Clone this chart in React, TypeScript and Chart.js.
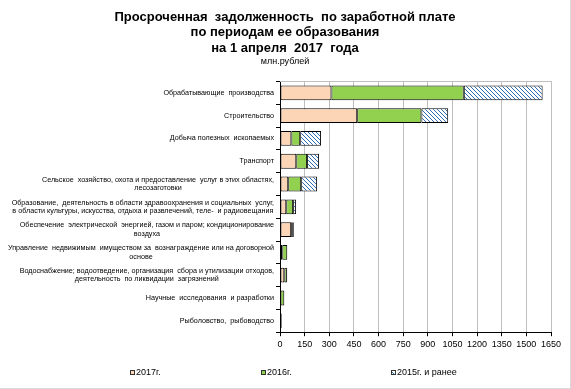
import React, { useEffect, useRef } from "react";
import { Chart, registerables } from "chart.js";

Chart.register(...registerables);

const titleLines = [
  "Просроченная  задолженность  по заработной плате",
  "по периодам ее образования",
  "на 1 апреля  2017  года",
];
const subtitleText = "млн.рублей";

const categories: (string | string[])[] = [
  "Обрабатывающие  производства",
  "Строительство",
  "Добыча полезных  ископаемых",
  "Транспорт",
  ["Сельское  хозяйство, охота и предоставление  услуг в этих областях,", "лесозаготовки"],
  [
    "Образование,  деятельность в области здравоохранения и социальных  услуг,",
    "в области культуры, искусства, отдыха и развлечений, теле-  и радиовещания",
  ],
  ["Обеспечение  электрической  энергией, газом и паром; кондиционирование", "воздуха"],
  ["Управление  недвижимым  имуществом за  вознаграждение или на договорной", "основе"],
  ["Водоснабжение; водоотведение, организация  сбора и утилизации отходов,", "деятельность  по ликвидации  загрязнений"],
  "Научные  исследования  и разработки",
  "Рыболовство,  рыбоводство",
];

const values2017 = [313, 470, 69, 99, 50, 38, 68, 14, 26, 3, 3];
const values2016 = [806, 391, 54, 66, 79, 42, 10, 30, 16, 23, 5];
const values2015 = [480, 163, 127, 73, 97, 18, 6, 1, 2, 1, 4];

const seriesNames = ["2017г.", "2016г.", "2015г. и ранее"];
const xTicks = [0, 150, 300, 450, 600, 750, 900, 1050, 1200, 1350, 1500, 1650];

const FONT = "'Liberation Sans', Arial, sans-serif";
const PEACH = "#FBD5B5";
const GREEN = "#92D050";
const HATCH = "#2E6DB4";

function makeHatch(ctx: CanvasRenderingContext2D): CanvasPattern | string {
  const c = document.createElement("canvas");
  c.width = 4;
  c.height = 4;
  const g = c.getContext("2d");
  if (!g) return "#fff";
  g.fillStyle = "#ffffff";
  g.fillRect(0, 0, 4, 4);
  g.fillStyle = HATCH;
  for (let i = 0; i < 4; i++) {
    g.fillRect(i, i, 1, 1);
  }
  const p = ctx.createPattern(c, "repeat");
  return p || "#fff";
}

export default function App() {
  const ref = useRef<HTMLCanvasElement | null>(null);

  useEffect(() => {
    const canvas = ref.current;
    if (!canvas) return;
    const ctx = canvas.getContext("2d");
    if (!ctx) return;
    const hatch = makeHatch(ctx);
    const fills = [PEACH, GREEN, hatch];

    const yLabelsPlugin = {
      id: "yLabels",
      afterDraw(chart: any) {
        const c = chart.ctx as CanvasRenderingContext2D;
        const yScale = chart.scales.y;
        const right = chart.chartArea.left - 6;
        c.save();
        c.font = `7.2px ${FONT}`;
        c.fillStyle = "#000";
        c.textBaseline = "middle";
        c.textAlign = "center";
        const lh = 8.5;
        categories.forEach((lab, i) => {
          const lines = Array.isArray(lab) ? lab : [lab];
          const w = Math.max(...lines.map((l) => c.measureText(l).width));
          const cx = right - w / 2;
          const yc = yScale.getPixelForValue(i);
          const y0 = yc - ((lines.length - 1) * lh) / 2;
          lines.forEach((l, j) => c.fillText(l, cx, y0 + j * lh));
        });
        c.restore();
      },
    };

    const frameAndLegendPlugin = {
      id: "frameLegend",
      beforeDatasetsDraw(chart: any) {
        const c = chart.ctx as CanvasRenderingContext2D;
        const a = chart.chartArea;
        c.save();
        c.strokeStyle = "#BFBFBF";
        c.lineWidth = 1;
        c.beginPath();
        c.moveTo(a.left, Math.round(a.top) + 0.5);
        c.lineTo(Math.round(a.right) + 0.5, Math.round(a.top) + 0.5);
        c.stroke();
        c.restore();
      },
      afterDraw(chart: any) {
        const c = chart.ctx as CanvasRenderingContext2D;
        const W = chart.width;
        const yc = 373;
        const xs = [0.2277, 0.4571, 0.6865].map((f) => Math.round(f * W));
        c.save();
        c.font = `9px ${FONT}`;
        c.textBaseline = "middle";
        c.textAlign = "left";
        seriesNames.forEach((name, i) => {
          const x = xs[i];
          c.fillStyle = fills[i] as any;
          c.fillRect(x, yc - 3, 5, 5);
          c.strokeStyle = "#333";
          c.lineWidth = 1;
          c.strokeRect(x + 0.5, yc - 2.5, 4, 4);
          c.fillStyle = "#000";
          c.fillText(name, x + 6, yc);
        });
        c.restore();
      },
    };

    const chart = new Chart(ctx, {
      type: "bar",
      data: {
        labels: categories as any,
        datasets: [values2017, values2016, values2015].map((vals, i) => ({
          label: seriesNames[i],
          data: vals,
          backgroundColor: fills[i] as any,
          borderColor: "#000",
          borderWidth: 1,
          borderSkipped: false,
          barPercentage: 1,
          categoryPercentage: 0.65,
        })),
      },
      options: {
        indexAxis: "y",
        animation: false,
        responsive: true,
        maintainAspectRatio: false,
        layout: { padding: { top: 0, bottom: 35, left: 0, right: 0 } },
        plugins: {
          legend: { display: false },
          tooltip: { enabled: false },
          title: {
            display: true,
            text: titleLines,
            color: "#000",
            font: { family: FONT, size: 13, weight: "bold", lineHeight: 1.17 },
            padding: { top: 10, bottom: 0 },
          },
          subtitle: {
            display: true,
            text: subtitleText,
            color: "#000",
            font: { family: FONT, size: 9, lineHeight: 1.2 },
            padding: { top: 0, bottom: 15 },
          },
        },
        scales: {
          x: {
            type: "linear",
            stacked: true,
            min: 0,
            max: 1650,
            afterBuildTicks: (s: any) => {
              s.ticks = xTicks.map((v) => ({ value: v }));
            },
            ticks: {
              color: "#000",
              font: { family: FONT, size: 9 },
              padding: 3,
              maxRotation: 0,
              autoSkip: false,
              callback: (v: any) => String(v),
            },
            grid: {
              color: "#BFBFBF",
              tickColor: "#000",
              tickLength: 4,
              lineWidth: 1,
            },
            border: { color: "#000", width: 1 },
          },
          y: {
            type: "category",
            stacked: true,
            offset: true,
            afterFit: (s: any) => {
              s.width = 280;
            },
            ticks: { display: false },
            grid: {
              offset: true,
              drawOnChartArea: false,
              color: "#000",
              tickLength: 4,
            },
            border: { color: "#000", width: 1 },
          },
          yRight: {
            type: "category",
            position: "right",
            display: true,
            afterFit: (s: any) => {
              s.width = 19;
            },
            ticks: { display: false },
            grid: { display: false, drawTicks: false },
            border: { display: false },
          },
        },
      },
      plugins: [yLabelsPlugin, frameAndLegendPlugin],
    });
    return () => chart.destroy();
  }, []);

  return (
    <div
      style={{
        position: "fixed",
        left: 0,
        top: 0,
        width: 571,
        height: 389,
        background: "#fff",
        boxSizing: "border-box",
        borderRight: "1px solid #D9D9D9",
        borderBottom: "1px solid #D9D9D9",
      }}
    >
      <canvas ref={ref} />
    </div>
  );
}
